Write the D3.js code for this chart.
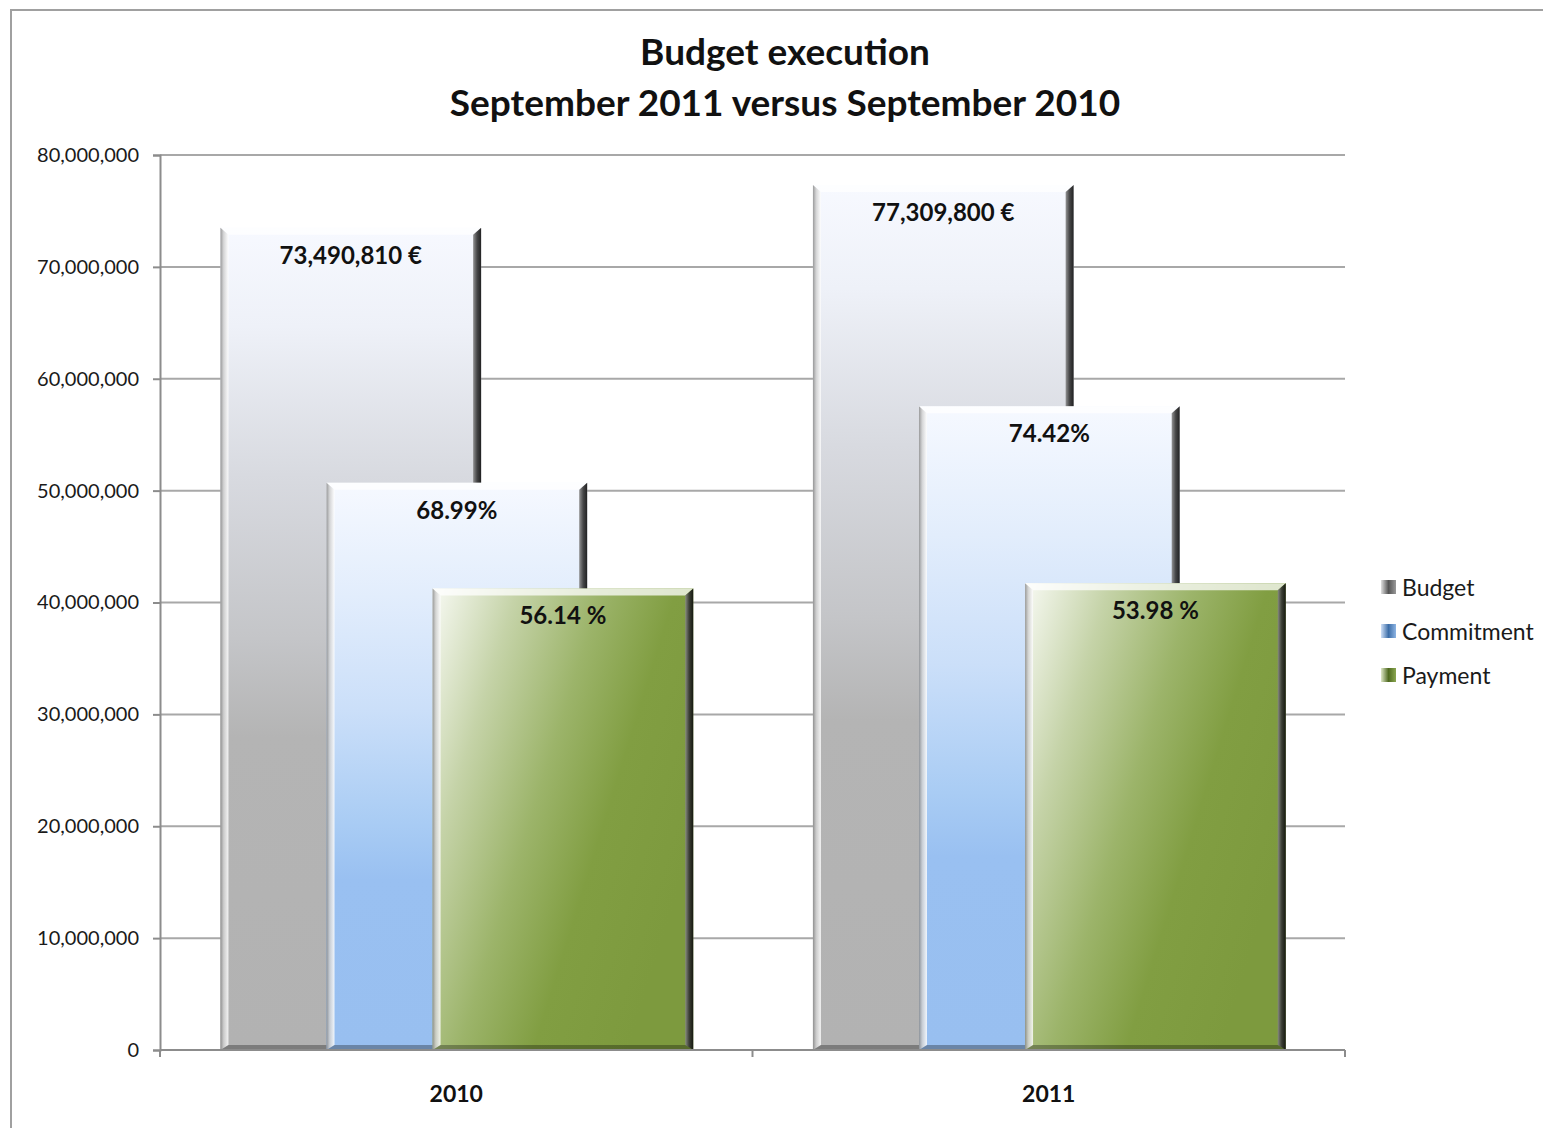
<!DOCTYPE html>
<html><head><meta charset="utf-8">
<script src="https://cdn.jsdelivr.net/npm/d3@7"></script>
<style>html,body{margin:0;padding:0;background:#fff;}svg{display:block;}</style>
</head><body>
<svg id="chart" width="1543" height="1128"></svg>
<script>
const years = ["2010", "2011"];
const seriesNames = ["Budget", "Commitment", "Payment"];
const budget = [73490810, 77309800];
const commitmentPct = [68.99, 74.42];
const paymentPct = [56.14, 53.98];
const budgetLabels = ["73,490,810 €", "77,309,800 €"];
const commitmentLabels = ["68.99%", "74.42%"];
const paymentLabels = ["56.14 %", "53.98 %"];
const yTicks = [0, 10000000, 20000000, 30000000, 40000000, 50000000, 60000000, 70000000, 80000000];

const font = "Lato, 'Open Sans', 'DejaVu Sans', sans-serif";
const svg = d3.select("#chart");
const defs = svg.append("defs");

function lg(id, x1, y1, x2, y2, stops) {
  const g = defs.append("linearGradient").attr("id", id)
    .attr("x1", x1).attr("y1", y1).attr("x2", x2).attr("y2", y2);
  stops.forEach(s => g.append("stop").attr("offset", s[0]).attr("stop-color", s[1]));
}
lg("gBudget", 0, 0, 0, 1, [[0, "#f7f9ff"], [0.12, "#eef1f8"], [0.3, "#d8dae0"], [0.5, "#c4c5c8"], [0.62, "#b4b4b4"], [1, "#b2b2b2"]]);
lg("gCommit", 0, 0, 0, 1, [[0, "#f6f9ff"], [0.2, "#e2edfc"], [0.4, "#cbdff9"], [0.6, "#a9ccf4"], [0.7, "#99c0f1"], [1, "#98bff0"]]);
lg("gPay", 0, 0, 1, 0.55, [[0, "#f8faf4"], [0.25, "#c5d3a8"], [0.5, "#9cb46a"], [0.72, "#819e42"], [1, "#7d9a3e"]]);
lg("gLeft", 0, 0, 1, 0, [[0, "#8a8a8a"], [0.4, "#cfcfcf"], [1, "#ffffff"]]);
lg("gRight", 0, 0, 1, 0, [[0, "#888888"], [0.5, "#333333"], [1, "#0a0a0a"]]);
lg("gLegB", 0, 0, 1, 0, [[0, "#e0e0e0"], [0.5, "#555"], [1, "#999"]]);
lg("gLegC", 0, 0, 1, 0, [[0, "#cfe0f7"], [0.5, "#3d6ea8"], [1, "#8db4e3"]]);
lg("gLegP", 0, 0, 1, 0, [[0, "#dfe8c9"], [0.5, "#4f6a20"], [1, "#8aa650"]]);
const fills = ["url(#gBudget)", "url(#gCommit)", "url(#gPay)"];
const legFills = ["url(#gLegB)", "url(#gLegC)", "url(#gLegP)"];

svg.append("path").attr("d", "M11,1128 L11,10 L1543,10")
  .attr("fill", "none").attr("stroke", "#a0a0a0").attr("stroke-width", 2);

const plotLeft = 160, plotRight = 1345, plotTop = 155, plotBottom = 1050;
const y = d3.scaleLinear().domain([0, 80000000]).range([plotBottom, plotTop]);
const x = d3.scaleBand().domain(years).range([plotLeft, plotRight]).padding(0);
const bw = x.bandwidth();
const inner = d3.scaleLinear().domain([0, 2]).range([bw * 0.102, bw * 0.46]);
const barW = bw * 0.44;

svg.append("g").selectAll("line").data(yTicks.slice(1)).join("line")
  .attr("x1", plotLeft).attr("x2", plotRight)
  .attr("y1", d => y(d)).attr("y2", d => y(d))
  .attr("stroke", "#a8a8a8").attr("stroke-width", 2);

const yAxis = svg.append("g").attr("transform", `translate(${plotLeft},0)`)
  .call(d3.axisLeft(y).tickValues(yTicks).tickFormat(d3.format(",")).tickSize(7).tickPadding(14));
yAxis.select(".domain").attr("stroke", "#8c8c8c").attr("stroke-width", 2);
yAxis.selectAll(".tick line").attr("stroke", "#8c8c8c").attr("stroke-width", 2);
yAxis.selectAll("text").attr("font-family", font).attr("font-size", 20).attr("fill", "#1a1a1a");

const values = years.map((yr, i) => [
  { s: 0, v: budget[i], label: budgetLabels[i] },
  { s: 1, v: budget[i] * commitmentPct[i] / 100, label: commitmentLabels[i] },
  { s: 2, v: budget[i] * paymentPct[i] / 100, label: paymentLabels[i] }
]);

const groups = svg.append("g").selectAll("g").data(years).join("g")
  .attr("transform", d => `translate(${x(d)},0)`);

groups.each(function (yr, i) {
  const g = d3.select(this);
  values[i].forEach(d => {
    const x0 = inner(d.s), yTop = y(d.v), h = y(0) - yTop;
    const b = g.append("g");
    b.append("rect").attr("x", x0).attr("y", yTop).attr("width", barW).attr("height", h)
      .attr("fill", fills[d.s]);
    b.append("polygon").attr("points",
      `${x0},${yTop} ${x0 + barW},${yTop} ${x0 + barW - 8},${yTop + 7} ${x0 + 8},${yTop + 7}`)
      .attr("fill", "#ffffff").attr("opacity", 0.75);
    b.append("polygon").attr("points",
      `${x0},${yTop} ${x0 + 8},${yTop + 7} ${x0 + 8},${yTop + h - 5} ${x0},${yTop + h}`)
      .attr("fill", "url(#gLeft)").attr("opacity", 0.85);
    b.append("polygon").attr("points",
      `${x0 + barW},${yTop} ${x0 + barW},${yTop + h} ${x0 + barW - 8},${yTop + h - 5} ${x0 + barW - 8},${yTop + 7}`)
      .attr("fill", "url(#gRight)").attr("opacity", 0.9);
    b.append("polygon").attr("points",
      `${x0},${yTop + h} ${x0 + 8},${yTop + h - 5} ${x0 + barW - 8},${yTop + h - 5} ${x0 + barW},${yTop + h}`)
      .attr("fill", "#000").attr("opacity", 0.3);
    b.append("text").attr("x", x0 + barW / 2).attr("y", yTop + 36)
      .attr("text-anchor", "middle").attr("font-family", font).attr("font-weight", "bold")
      .attr("font-size", 24).attr("fill", "#111").text(d.label);
  });
});

const xAxis = svg.append("g").attr("transform", `translate(0,${plotBottom})`)
  .call(d3.axisBottom(x).tickSize(0).tickPadding(36));
xAxis.select(".domain").remove();
xAxis.append("line").attr("x1", plotLeft).attr("x2", plotRight).attr("y1", 0).attr("y2", 0)
  .attr("stroke", "#8c8c8c").attr("stroke-width", 2);
xAxis.selectAll(".xt").data([plotLeft, plotLeft + bw, plotRight]).join("line").attr("class", "xt")
  .attr("x1", d => d).attr("x2", d => d).attr("y1", 0).attr("y2", 7)
  .attr("stroke", "#8c8c8c").attr("stroke-width", 2);
xAxis.selectAll(".tick text").attr("font-family", font).attr("font-weight", "bold")
  .attr("font-size", 23).attr("fill", "#111");

const leg = svg.append("g").attr("transform", "translate(1381,588)");
seriesNames.forEach((n, i) => {
  const r = leg.append("g").attr("transform", `translate(0,${i * 44})`);
  r.append("rect").attr("x", 0).attr("y", -8).attr("width", 15).attr("height", 14).attr("fill", legFills[i]);
  r.append("text").attr("x", 21).attr("y", 8).attr("font-family", font)
    .attr("font-size", 23).attr("fill", "#1a1a1a").text(n);
});

const title = svg.append("text").attr("text-anchor", "middle").attr("font-family", font)
  .attr("font-weight", "bold").attr("font-size", 37).attr("fill", "#111");
title.append("tspan").attr("x", 785).attr("y", 65).text("Budget execution");
title.append("tspan").attr("x", 785).attr("y", 116).text("September 2011 versus September 2010");
</script>
</body></html>
